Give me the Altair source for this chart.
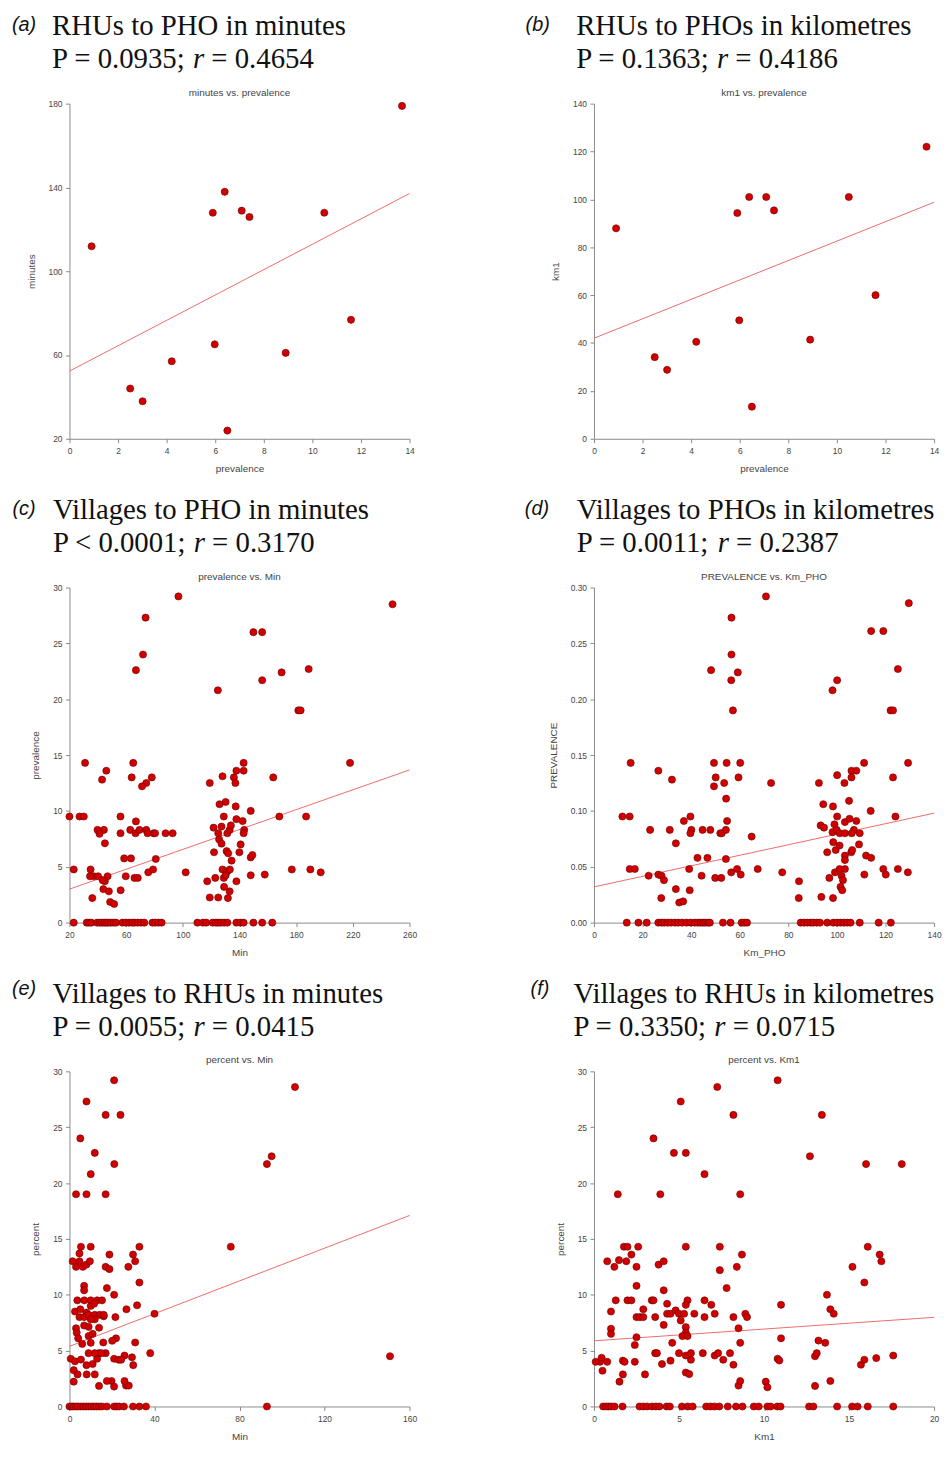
import altair as alt
import pandas as pd

# ---------------- data ----------------
# (a)/(b) RHUs: prevalence (x) vs minutes / km to PHO
rhu_prevalence = [0.91, 2.50, 3.01, 4.21, 5.90, 5.98, 6.39, 6.50, 7.09, 7.41, 8.90, 10.49, 11.59, 13.69]
rhu_minutes = [111.9, 44.0, 37.9, 57.0, 127.9, 65.1, 137.9, 23.9, 128.9, 125.9, 61.0, 127.9, 76.8, 178.9]
rhu_km = [87.9, 34.1, 28.8, 40.5, 94.3, 49.5, 101.0, 13.4, 101.0, 95.4, 41.4, 101.0, 60.0, 122.0]

# (c) villages: minutes to PHO (x) vs prevalence % (y)
c_points = [
    (96.9, 29.2), (248, 28.5), (73.7, 27.3), (71.9, 24.0), (66.9, 22.6), (149.8, 26.0), (156, 26.0),
    (156, 21.7), (169.7, 22.4), (188.8, 22.7), (124.7, 20.8), (181.5, 19.0), (183.1, 19.0), (218, 14.3),
    (31, 14.3), (65, 14.3), (142.9, 14.3), (46, 13.6), (43, 12.8), (63.9, 13.0), (78.1, 13.0), (74.2, 12.5),
    (71.2, 12.2), (128, 13.1), (136, 13.0), (137.8, 13.6), (142.9, 13.6), (137.1, 12.5), (119, 12.5),
    (163.8, 13.0), (137.3, 10.4), (130.2, 10.8), (125.9, 10.6), (147.9, 10.0), (20, 9.5), (27.1, 9.5),
    (30.1, 9.5), (56, 9.5), (66.9, 9.06), (128.9, 9.5), (137.8, 9.26), (142.2, 9.09), (168.1, 9.5),
    (187, 9.5), (39.8, 8.3), (44.3, 8.3), (41.2, 7.95), (45, 7.1), (56, 8.0), (62.9, 8.3), (66.6, 8.0),
    (69.4, 8.3), (74.2, 8.3), (75.1, 8.0), (79.3, 8.0), (80.4, 8.0), (87.8, 8.0), (92.8, 8.0), (121.7, 8.5),
    (125, 8.0), (127.3, 8.6), (131.4, 8.0), (133, 8.3), (133.9, 8.7), (143.3, 8.3), (142.9, 8.0),
    (125.6, 7.45), (127.3, 7.07), (140.8, 7.0), (122, 6.3), (130.9, 6.4), (132, 6.2), (139.9, 6.3),
    (134.4, 5.55), (147.9, 5.84), (149.1, 6.05), (58.6, 5.75), (63.4, 5.75), (80.9, 5.7), (23, 4.76),
    (34.9, 4.76), (37.2, 4.15), (34.5, 4.15), (40.2, 4.15), (46.9, 4.15), (45, 3.7), (43.4, 3.8),
    (59.7, 4.15), (65.9, 4.0), (68.2, 4.0), (75.6, 4.5), (79, 4.76), (36.1, 2.2), (43.9, 3.0), (47.8, 2.8),
    (48.7, 1.85), (51.5, 1.67), (56.1, 2.9), (102, 4.5), (117.2, 3.7), (119, 2.25), (125, 2.25),
    (122.9, 4.0), (128, 4.76), (131.4, 4.6), (133.2, 4.76), (128.9, 4.0), (130.2, 4.24), (129.1, 3.2),
    (133, 2.8), (131.8, 2.2), (137.8, 3.7), (147.9, 4.24), (157.8, 4.3), (176.9, 4.76), (190, 4.76),
    (197.3, 4.5),
    (23, 0), (32.2, 0), (33.8, 0), (35.4, 0), (39.5, 0), (41.4, 0), (43, 0), (44.6, 0), (46, 0), (47.3, 0),
    (49.2, 0), (51, 0), (52.8, 0), (57.4, 0), (59.7, 0), (62, 0), (64.3, 0), (65.9, 0), (68.2, 0), (70.5, 0),
    (72.8, 0), (78.6, 0), (80.4, 0), (82.7, 0), (85, 0), (110.3, 0), (114.2, 0), (116.5, 0), (121.1, 0),
    (123.4, 0), (125, 0), (126.8, 0), (129.1, 0), (131.4, 0), (137.8, 0), (140.6, 0), (142.9, 0),
    (149.8, 0), (156, 0), (163.1, 0),
]

# (d) villages: km to PHO (x) vs prevalence fraction (y)
d_points = [
    (70.8, 0.292), (129.6, 0.286), (56.6, 0.273), (56.6, 0.240), (48.2, 0.226), (59.2, 0.224), (56.5, 0.217),
    (57.2, 0.190), (114.1, 0.261), (119.1, 0.261), (125.1, 0.227), (100.1, 0.217), (98.2, 0.208),
    (122.1, 0.190), (123.1, 0.190), (15.1, 0.143), (26.5, 0.136), (32.1, 0.128), (49.4, 0.143), (54.6, 0.143),
    (60.2, 0.143), (50.1, 0.130), (49.4, 0.122), (53.6, 0.125), (59.5, 0.130), (72.9, 0.125), (54.4, 0.111),
    (54.8, 0.091), (92.6, 0.125), (100.1, 0.132), (103.1, 0.125), (106, 0.136), (108, 0.136), (106, 0.130),
    (111.2, 0.143), (123.1, 0.130), (129.3, 0.143), (105, 0.109), (94.4, 0.106), (98.4, 0.104),
    (113.9, 0.100), (124.1, 0.095), (11.7, 0.095), (14.7, 0.095), (23.1, 0.083), (31.2, 0.083),
    (33.7, 0.071), (37, 0.091), (39.7, 0.095), (40.1, 0.083), (39.7, 0.080), (44.7, 0.083), (47.9, 0.083),
    (52.0, 0.080), (52.6, 0.080), (54.3, 0.083), (64.9, 0.077), (93.3, 0.087), (94.7, 0.085), (98.2, 0.081),
    (99, 0.088), (99.9, 0.083), (100.1, 0.095), (101.2, 0.080), (103.3, 0.080), (103.3, 0.090),
    (105.2, 0.093), (107, 0.083), (108, 0.091), (106.1, 0.080), (109.4, 0.080), (109.1, 0.070),
    (98.5, 0.072), (101.1, 0.069), (96, 0.063), (99.5, 0.065), (103.3, 0.060), (103.3, 0.056),
    (105.9, 0.063), (106.3, 0.065), (112, 0.060), (114.1, 0.058), (42.6, 0.058), (46.7, 0.058),
    (54.3, 0.057), (14.7, 0.048), (16.8, 0.048), (22.5, 0.042), (26.5, 0.043), (27.8, 0.042), (28.8, 0.038),
    (27.7, 0.022), (33.7, 0.030), (35.1, 0.018), (36.7, 0.019), (39.4, 0.029), (39.2, 0.048), (44.3, 0.042),
    (49.9, 0.040), (52.4, 0.040), (56.5, 0.045), (58.9, 0.048), (60.4, 0.043), (67.4, 0.048), (77.5, 0.045),
    (84.4, 0.037), (84.3, 0.022), (93.6, 0.023), (96.9, 0.040), (98.4, 0.022), (99.2, 0.045), (101.1, 0.048),
    (101.9, 0.042), (102.5, 0.038), (101.5, 0.032), (102.2, 0.029), (103.3, 0.048), (111.3, 0.043),
    (119.1, 0.048), (120.1, 0.043), (125.1, 0.048), (129.2, 0.045),
    (13.5, 0), (18.3, 0), (21.7, 0), (26.5, 0), (27.8, 0), (28.9, 0), (30.3, 0), (31.7, 0), (33.3, 0),
    (34.7, 0), (36.3, 0), (38.1, 0), (39.8, 0), (41.5, 0), (42.8, 0), (43.9, 0), (44.9, 0), (45.8, 0),
    (46.9, 0), (47.7, 0), (53.1, 0), (56.2, 0), (60.8, 0), (61.9, 0), (63, 0), (85.1, 0), (86.5, 0),
    (87.8, 0), (89.2, 0), (90.3, 0), (91.7, 0), (93, 0), (96, 0), (98.5, 0), (100.1, 0), (101.5, 0),
    (102.9, 0), (104.2, 0), (105.6, 0), (109.4, 0), (117.2, 0), (122.2, 0),
]

# (e) villages: minutes to RHU (x) vs percent (y)
e_points = [
    (21, 29.2), (106.1, 28.6), (8, 27.3), (17, 26.1), (24, 26.1), (5.1, 24.0), (11.9, 22.7), (10, 20.8),
    (21.1, 21.7), (92.9, 21.7), (95.1, 22.4), (3.1, 19.0), (8, 19.0), (17, 19.0), (75.9, 14.3), (150.8, 4.5),
    (40, 8.3), (38, 4.77), (32.9, 14.3), (29.9, 13.6), (30.9, 13.0), (27.7, 12.5), (32.9, 11.1),
    (31.8, 9.06), (30.9, 5.73), (26.8, 8.7), (29.4, 4.4), (30, 3.7), (25.9, 4.56), (26.6, 1.87), (27.9, 1.87),
    (25.9, 2.28), (21.6, 8.0), (21, 10.0), (21.9, 6.1), (20.1, 5.88), (21, 4.27), (23.1, 4.18), (24.3, 4.18),
    (19.8, 2.28), (21, 1.78), (17.6, 2.28), (17, 12.5), (18.8, 12.3), (18.8, 13.6), (17.6, 10.6),
    (16.1, 8.07), (15.9, 5.73), (17, 4.77), (13.9, 1.84), (10, 14.3), (5.4, 14.3), (4.7, 13.7), (1.5, 13.0),
    (3.1, 12.5), (4.7, 13.0), (6.3, 12.5), (8, 12.7), (9.6, 13.0), (6.9, 10.8), (6.9, 10.4), (3.7, 9.5),
    (7, 9.5), (10, 9.5), (13, 9.5), (15.3, 9.5), (2.6, 8.5), (5.1, 8.7), (8, 8.4), (10, 9.0), (11.6, 9.2),
    (4.7, 8.0), (6.9, 8.0), (9, 8.2), (11.9, 8.2), (14.2, 8.2), (16.1, 8.2), (11.9, 7.8), (10, 7.8),
    (6.9, 7.25), (9, 7.13), (13.9, 7.05), (3.1, 7.0), (3.4, 6.6), (4.1, 6.1), (6, 5.6), (9, 6.3), (10.9, 6.5),
    (10, 5.7), (0.6, 4.27), (2.6, 4.04), (5.4, 4.2), (8, 3.7), (10.9, 3.8), (13, 4.27), (13.9, 4.77),
    (9, 4.77), (11.9, 4.77), (15, 4.77), (2, 3.25), (3.8, 2.87), (8.1, 2.87), (11.9, 2.87), (2, 2.22),
    (92.9, 0), (0, 0), (1.1, 0), (2, 0), (3.1, 0), (4.1, 0), (5.4, 0), (6.6, 0), (7.8, 0), (9, 0), (10.3, 0),
    (11.5, 0), (12.7, 0), (13.9, 0), (15.2, 0), (17.6, 0), (21, 0), (22.2, 0), (23.4, 0), (25.6, 0),
    (29.9, 0), (32.9, 0), (36, 0),
]

# (f) villages: km to RHU (x) vs percent (y)
f_points = [
    (10.8, 29.2), (7.25, 28.6), (5.1, 27.3), (8.2, 26.1), (13.4, 26.1), (3.5, 24.0), (4.7, 22.7), (5.4, 22.7),
    (6.5, 20.8), (12.7, 22.4), (16.0, 21.7), (18.1, 21.7), (1.4, 19.0), (3.9, 19.0), (8.6, 19.0),
    (1.76, 14.3), (1.97, 14.3), (2.6, 14.3), (5.4, 14.3), (7.4, 14.3), (16.1, 14.3), (2.2, 13.6), (8.7, 13.6),
    (16.8, 13.6), (16.9, 13.0), (0.78, 13.0), (1.47, 13.1), (1.9, 13.0), (3.8, 12.7), (4.1, 13.0),
    (1.2, 12.5), (2.5, 12.5), (7.4, 12.2), (8.4, 12.5), (15.2, 12.5), (15.9, 11.1), (2.5, 10.8), (4.1, 10.4),
    (7.8, 10.6), (13.7, 10.0), (1.28, 9.5), (1.97, 9.5), (2.2, 9.5), (3.4, 9.5), (3.5, 9.5), (5.5, 9.5),
    (6.5, 9.5), (4.3, 9.2), (6.9, 9.1), (5.4, 9.1), (11.0, 9.1), (1.0, 8.5), (2.9, 8.7), (13.9, 8.7),
    (14.1, 8.3), (2.5, 8.0), (2.7, 8.0), (2.9, 8.0), (3.6, 8.0), (4.3, 8.3), (4.5, 8.3), (4.8, 8.6),
    (5.0, 8.3), (5.3, 8.3), (5.9, 8.3), (5.1, 7.7), (5.4, 7.1), (5.4, 6.6), (6.5, 8.0), (7.1, 8.3),
    (8.2, 8.0), (8.9, 8.3), (9.0, 8.0), (4.1, 7.3), (8.5, 7.0), (1.0, 6.96), (1.0, 6.5), (2.5, 6.2),
    (2.4, 5.5), (5.2, 6.3), (5.5, 6.3), (4.6, 5.7), (8.6, 5.7), (11.0, 6.1), (13.2, 5.9), (13.6, 5.7),
    (0.36, 4.0), (0.1, 4.0), (0.45, 4.36), (0.5, 3.2), (0.78, 4.0), (1.7, 4.1), (1.8, 4.0), (1.7, 2.87),
    (1.5, 2.22), (2.4, 4.0), (3.0, 2.87), (3.6, 4.77), (3.7, 4.77), (4.0, 3.8), (4.5, 4.1), (5.0, 4.77),
    (5.4, 4.56), (5.4, 3.04), (5.6, 2.9), (5.7, 4.77), (5.7, 4.18), (6.4, 4.77), (7.1, 4.56), (7.3, 4.77),
    (7.6, 4.18), (8.0, 4.77), (8.2, 3.74), (8.5, 1.87), (8.6, 2.28), (10.1, 2.22), (10.2, 1.72),
    (10.8, 4.27), (10.9, 4.12), (13.0, 4.5), (13.1, 4.77), (13.0, 1.84), (13.9, 2.28), (15.7, 3.74),
    (15.9, 4.18), (16.6, 4.33), (17.6, 4.56),
    (0.54, 0), (0.71, 0), (0.86, 0), (1.01, 0), (1.21, 0), (1.68, 0), (2.68, 0), (2.89, 0), (3.12, 0),
    (3.41, 0), (3.64, 0), (3.85, 0), (4.27, 0), (4.46, 0), (5.17, 0), (5.51, 0), (5.8, 0), (6.6, 0),
    (6.85, 0), (7.08, 0), (7.37, 0), (7.87, 0), (8.35, 0), (8.73, 0), (9.4, 0), (9.69, 0), (10.2, 0),
    (10.39, 0), (10.78, 0), (10.97, 0), (12.65, 0), (12.9, 0), (14.3, 0), (15.18, 0), (15.5, 0), (16.1, 0),
    (17.6, 0),
]

# fitted-line end points
fit_a = ([0, 14], [52.3, 137.1])
fit_b = ([0, 14], [42.0, 98.8])
fit_c = ([20, 260], [3.0, 13.67])
fit_d = ([0, 140], [0.032, 0.098])
fit_e = ([0, 160], [5.38, 17.1])
fit_f = ([0, 20], [5.88, 7.98])

# ---------------- styling ----------------
W, H = 343, 338
SERIF = "Liberation Serif"
SANS = "Liberation Sans"
TXT = "#444444"
DOT_FILL = "#d00000"
DOT_STROKE = "#700000"
LINE = "#f06a6a"
HEAD = 29

TIMES = {" ": 250, "P": 556, "=": 564, "<": 564, ".": 250, ";": 278}
for ch in "0123456789":
    TIMES[ch] = 500
TIMES_ITALIC_R = 389


def tw(s, size):
    return sum(TIMES[c] for c in s) * size / 1000.0


def txt(text, x, y, size, font, style="normal", align="left", color="#111111"):
    return alt.Chart(pd.DataFrame({"t": [text]})).mark_text(
        font=font, fontSize=size, fontStyle=style, align=align,
        baseline="alphabetic", color=color,
    ).encode(text="t:N", x=alt.value(x), y=alt.value(y))


def panel(points, fit, xdom, ydom, xticks, yticks, xtitle, ytitle, small,
          letter, head, pstat, rstat, lab_dx, head_dx, lab_dy, yfmt=None):
    pdf = pd.DataFrame(points, columns=["x", "y"])
    fdf = pd.DataFrame({"x": fit[0], "y": fit[1]})
    xsc = alt.Scale(domain=xdom, nice=False, zero=False)
    ysc = alt.Scale(domain=ydom, nice=False, zero=False)
    xax = alt.Axis(values=xticks, title=xtitle)
    ykw = dict(values=yticks, title=ytitle)
    if yfmt:
        ykw["format"] = yfmt
    yax = alt.Axis(**ykw)
    enc = dict(x=alt.X("x:Q", scale=xsc, axis=xax), y=alt.Y("y:Q", scale=ysc, axis=yax))
    line = alt.Chart(fdf).mark_line(color=LINE, strokeWidth=1).encode(**enc)
    pts = alt.Chart(pdf).mark_point(
        shape="circle", filled=True, fill=DOT_FILL, stroke=DOT_STROKE,
        strokeWidth=0.6, size=52, opacity=1,
    ).encode(**enc)
    x_r = head_dx + tw(pstat + " ", HEAD)
    x_3 = x_r + (TIMES_ITALIC_R + TIMES[" "]) * HEAD / 1000.0
    layers = [
        line, pts,
        txt(small, W / 2, -8, 10, SANS, align="center", color=TXT),
        txt("(" + letter + ")", lab_dx, lab_dy, 20, SANS, style="italic"),
        txt(head, head_dx, -69.3, HEAD, SERIF),
        txt(pstat, head_dx, -36, HEAD, SERIF),
        txt("r", x_r, -36, HEAD, SERIF, style="italic"),
        txt(rstat, x_3, -36, HEAD, SERIF),
    ]
    return alt.layer(*layers).properties(width=W, height=H)


pa = panel(list(zip(rhu_prevalence, rhu_minutes)), fit_a, [0, 14], [20, 180],
           [0, 2, 4, 6, 8, 10, 12, 14], [20, 60, 100, 140, 180], "prevalence", "minutes",
           "minutes vs. prevalence", "a", "RHUs to PHO in minutes", "P = 0.0935;", "= 0.4654",
           -58, -17.5, -73)
pb = panel(list(zip(rhu_prevalence, rhu_km)), fit_b, [0, 14], [0, 140],
           [0, 2, 4, 6, 8, 10, 12, 14], [0, 20, 40, 60, 80, 100, 120, 140], "prevalence", "km1",
           "km1 vs. prevalence", "b", "RHUs to PHOs in kilometres", "P = 0.1363;", "= 0.4186",
           -69, -18, -73)
pc = panel(c_points, fit_c, [20, 260], [0, 30],
           [20, 60, 100, 140, 180, 220, 260], [0, 5, 10, 15, 20, 25, 30], "Min", "prevalence",
           "prevalence vs. Min", "c", "Villages to PHO in minutes", "P < 0.0001;", "= 0.3170",
           -57.5, -16.7, -73)
pd_ = panel(d_points, fit_d, [0, 140], [0, 0.30],
            [0, 20, 40, 60, 80, 100, 120, 140], [0, 0.05, 0.10, 0.15, 0.20, 0.25, 0.30], "Km_PHO",
            "PREVALENCE", "PREVALENCE vs. Km_PHO", "d", "Villages to PHOs in kilometres",
            "P = 0.0011;", "= 0.2387", -69.7, -17.3, -73, yfmt=".2f")
pe = panel(e_points, fit_e, [0, 160], [0, 30],
           [0, 40, 80, 120, 160], [0, 5, 10, 15, 20, 25, 30], "Min", "percent",
           "percent vs. Min", "e", "Villages to RHUs in minutes", "P = 0.0055;", "= 0.0415",
           -58, -17, -77)
pf = panel(f_points, fit_f, [0, 20], [0, 30],
           [0, 5, 10, 15, 20], [0, 5, 10, 15, 20, 25, 30], "Km1", "percent",
           "percent vs. Km1", "f", "Villages to RHUs in kilometres", "P = 0.3350;", "= 0.0715",
           -64, -20.7, -77)

chart = alt.concat(
    pa, pb, pc, pd_, pe, pf, columns=2, spacing={"row": 150, "column": 186}, bounds="flush"
).properties(
    padding={"left": 4, "top": -2.7, "right": 0, "bottom": 0}
).configure_view(
    stroke=None
).configure_axis(
    grid=False, domainColor="#8a8a8a", tickColor="#8a8a8a", domainWidth=1, tickWidth=1,
    tickSize=4, labelFont=SANS, labelFontSize=8.5, labelColor=TXT,
    labelFlush=False, labelOverlap=False, titleFont=SANS, titleFontSize=10,
    titleFontWeight="normal", titleColor=TXT,
).configure_axisX(
    labelPadding=4, titlePadding=8.5
).configure_axisY(
    labelPadding=3.5, titlePadding=12
)

chart.save("out.html", embed_options={"renderer": "svg", "actions": False})
